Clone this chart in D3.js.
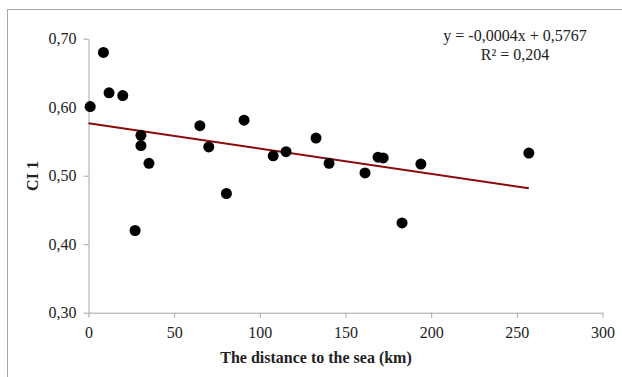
<!DOCTYPE html>
<html><head><meta charset="utf-8">
<script src="https://cdn.jsdelivr.net/npm/d3@7"></script>
<style>body{margin:0;background:#fff;} svg{display:block;}</style>
</head><body>
<script>
const distance = [1, 8.7, 12, 20, 30.6, 30.6, 35.3, 27.2, 65, 70.2, 80.5, 90.8, 107.8, 115.3, 132.8, 140.4, 161.4, 169, 172, 183, 194, 257];
const ci1 = [0.601, 0.680, 0.621, 0.617, 0.559, 0.544, 0.518, 0.420, 0.573, 0.542, 0.474, 0.581, 0.529, 0.535, 0.555, 0.518, 0.504, 0.527, 0.526, 0.431, 0.517, 0.533];
const xTicks = [0, 50, 100, 150, 200, 250, 300];
const yTicks = [0.30, 0.40, 0.50, 0.60, 0.70];
const trendSlope = -0.00037, trendIntercept = 0.5767, trendRange = [0, 257];
const equationText = "y = -0,0004x + 0,5767";
const r2Text = "R² = 0,204";

const W = 622, H = 377;
const svg = d3.select("body").append("svg").attr("width", W).attr("height", H);
const font = "'Liberation Serif', 'Times New Roman', serif";

// outer frame
svg.append("rect").attr("x", 7.5).attr("y", 9.5).attr("width", W + 10).attr("height", H + 10)
  .attr("fill", "none").attr("stroke", "#a6a6a6").attr("stroke-width", 1);

const x = d3.scaleLinear().domain([0, 300]).range([88.5, 602.5]);
const y = d3.scaleLinear().domain([0.30, 0.70]).range([312.7, 38.7]);
const fmt = d => d.toFixed(2).replace(".", ",");

const xAxis = svg.append("g").attr("transform", `translate(0,${y(0.30)})`)
  .call(d3.axisBottom(x).tickValues(xTicks).tickSize(5).tickSizeOuter(0).tickPadding(9));
const yAxis = svg.append("g").attr("transform", `translate(${x(0)},0)`)
  .call(d3.axisLeft(y).tickValues(yTicks).tickFormat(fmt).tickSize(5).tickSizeOuter(0).tickPadding(7));
[xAxis, yAxis].forEach(g => {
  g.selectAll("path,line").attr("stroke", "#a6a6a6").attr("stroke-width", 1);
  g.selectAll("text").attr("font-family", font).attr("font-size", 16).attr("fill", "#222");
});

// trend line
svg.append("line")
  .attr("x1", x(trendRange[0])).attr("y1", y(trendIntercept + trendSlope * trendRange[0]))
  .attr("x2", x(trendRange[1])).attr("y2", y(trendIntercept + trendSlope * trendRange[1]))
  .attr("stroke", "#8b0a0a").attr("stroke-width", 2);

// points
svg.append("g").selectAll("circle").data(distance.map((d, i) => [d, ci1[i]])).join("circle")
  .attr("cx", d => x(d[0])).attr("cy", d => y(d[1])).attr("r", 5.5).attr("fill", "#000");

// equation
svg.append("text").attr("x", 515).attr("y", 41).attr("text-anchor", "middle")
  .attr("font-family", font).attr("font-size", 16).attr("fill", "#222").text(equationText);
svg.append("text").attr("x", 515).attr("y", 60).attr("text-anchor", "middle")
  .attr("font-family", font).attr("font-size", 16).attr("fill", "#222").text(r2Text);

// axis titles
svg.append("text").attr("x", 316).attr("y", 363).attr("text-anchor", "middle")
  .attr("font-family", font).attr("font-size", 16).attr("font-weight", "bold").attr("fill", "#222")
  .text("The distance to the sea (km)");
svg.append("text").attr("transform", "translate(38,176) rotate(-90)").attr("text-anchor", "middle")
  .attr("font-family", font).attr("font-size", 16).attr("font-weight", "bold").attr("fill", "#222")
  .text("CI 1");
</script>
</body></html>
